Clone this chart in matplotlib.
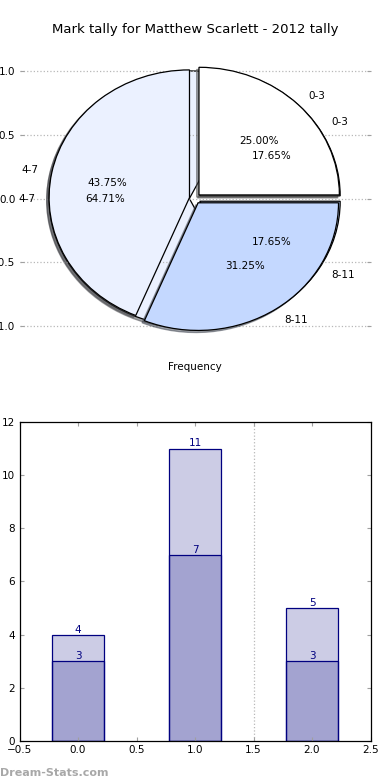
import matplotlib
matplotlib.use("Agg")
import matplotlib.pyplot as plt
import numpy as np

# ---- data ----
categories = ['0-3', '4-7', '8-11']
pie_a_values = [4, 7, 5]        # 25.00%, 43.75%, 31.25%
pie_b_values = [3, 11, 3]       # 17.65%, 64.71%, 17.65%
bar_light_values = [4, 11, 5]
bar_dark_values = [3, 7, 3]
bar_positions = [0, 1, 2]
pie_yticks = [-1.0, -0.5, 0.0, 0.5, 1.0]
bar_xticks = [-0.5, 0.0, 0.5, 1.0, 1.5, 2.0, 2.5]
bar_yticks = [0, 2, 4, 6, 8, 10, 12]
divider_x = 1.5
title = 'Mark tally for Matthew Scarlett - 2012 tally'
xlabel = 'Frequency'
watermark = 'Dream-Stats.com'

pie_colors = ['#ffffff', '#ebf1ff', '#c4d8ff']
bar_face = (0.0, 0.0, 0.5, 0.2)
bar_edge = '#000080'
tick_grey = '#a0a0a0'
grid_grey = '#b8b8b8'

plt.rcParams['font.family'] = ['DejaVu Sans']

fig = plt.figure(figsize=(3.9, 7.8), dpi=100)
fig.subplots_adjust(left=0.05, right=0.95, bottom=0.05, top=0.95, hspace=0.2)
ax1 = fig.add_subplot(2, 1, 1)
ax2 = fig.add_subplot(2, 1, 2)

# ---- pie chart (two overlaid pies) ----
explode = [0.04, 0.04, 0.04]
shadow_b = {'ox': -0.012, 'oy': -0.012, 'zorder': 0.45}
shadow_a = {'ox': -0.012, 'oy': -0.012, 'zorder': 0.95}
wb, tb, ab = ax1.pie(pie_b_values, labels=categories, colors=pie_colors,
                     explode=explode, autopct='%1.2f%%', shadow=shadow_b,
                     wedgeprops={'edgecolor': 'black', 'linewidth': 0.9, 'zorder': 0.5},
                     textprops={'fontsize': 7.5})
wa, ta, aa = ax1.pie(pie_a_values, labels=categories, colors=pie_colors,
                     explode=explode, autopct='%1.2f%%', shadow=shadow_a,
                     wedgeprops={'edgecolor': 'black', 'linewidth': 0.9, 'zorder': 1},
                     textprops={'fontsize': 7.5})
ax1.set_aspect('auto')
ax1.set_xlim(-1.25, 1.25)
ax1.set_ylim(-1.25, 1.25)
ax1.set_frame_on(False)
ax1.set_xticks([])
ax1.set_yticks(pie_yticks)
ax1.set_yticklabels([f'{v:.1f}'.replace('-', '\u2212') for v in pie_yticks])
ax1.tick_params(axis='y', direction='in', length=3, color=tick_grey,
                left=True, right=True, labelsize=7.5, pad=3)
ax1.yaxis.grid(True, linestyle=':', color=grid_grey, linewidth=0.9, zorder=0.1)
ax1.set_axisbelow(True)
ax1.set_title(title, fontsize=9.5, pad=4)
ax1.set_xlabel(xlabel, fontsize=7.5, labelpad=3)

# ---- bar chart (overlaid bars) ----
ax2.bar(bar_positions, bar_light_values, width=0.45, color=bar_face,
        edgecolor=bar_edge, linewidth=0.9, align='center')
ax2.bar(bar_positions, bar_dark_values, width=0.45, color=bar_face,
        edgecolor=bar_edge, linewidth=0.9, align='center')
for xp, v in zip(bar_positions, bar_light_values):
    ax2.text(xp, v, str(v), ha='center', va='bottom', color=bar_edge, fontsize=7.5)
for xp, v in zip(bar_positions, bar_dark_values):
    ax2.text(xp, v, str(v), ha='center', va='bottom', color=bar_edge, fontsize=7.5)
ax2.axvline(divider_x, linestyle=':', color=grid_grey, linewidth=0.9, zorder=0)
ax2.set_xlim(-0.5, 2.5)
ax2.set_ylim(0, 12)
ax2.set_xticks(bar_xticks)
ax2.set_xticklabels([f'{v:.1f}'.replace('-', '\u2212') for v in bar_xticks])
ax2.set_yticks(bar_yticks)
ax2.tick_params(direction='in', length=3, color=tick_grey, top=True, right=True,
                labelsize=7.5, pad=3)
for s in ax2.spines.values():
    s.set_color('black')
    s.set_linewidth(0.9)

fig.text(0.0, 0.009, watermark, fontsize=8, fontweight='bold', color='#a8a8a8',
         ha='left', va='center')

fig.savefig('out.png', dpi=100)
